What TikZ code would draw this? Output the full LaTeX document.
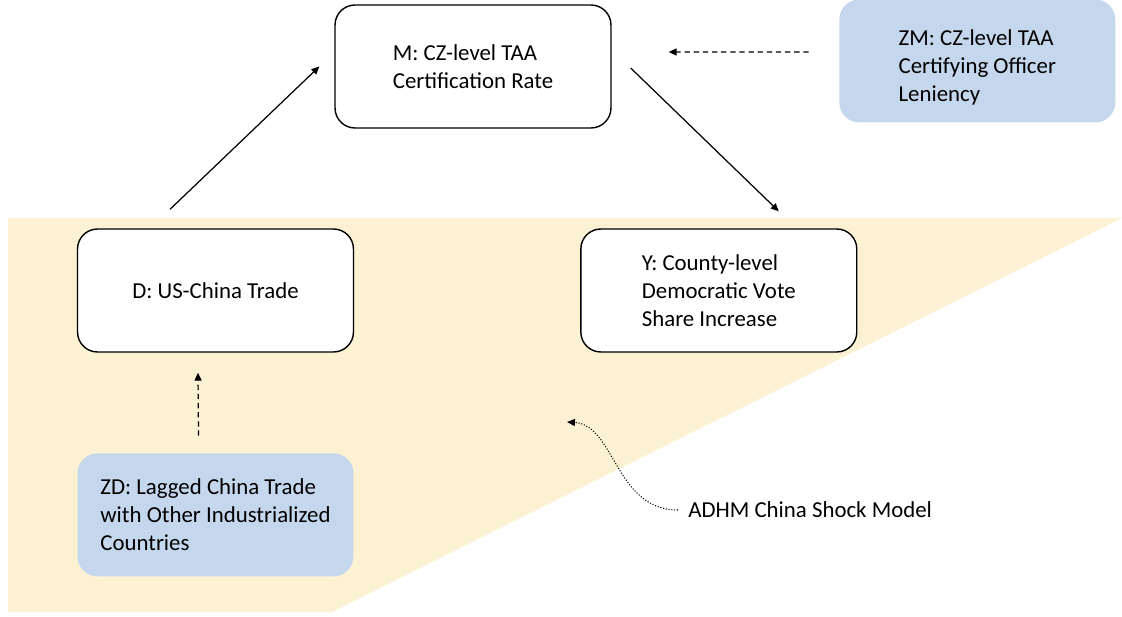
\documentclass[tikz,border=0pt]{standalone}
\usepackage{fontspec}
\setmainfont{Carlito}
\usepackage{xcolor}
\usetikzlibrary{arrows.meta,positioning}
\definecolor{shockyellow}{HTML}{FCF1D3}
\definecolor{instblue}{HTML}{C4D7EC}

\begin{document}
\begin{tikzpicture}[x=0.02cm,y=0.02cm,
    font=\fontsize{13pt}{15.9pt}\selectfont,
    varbox/.style={draw, line width=0.8pt, rounded corners=0.4cm, fill=white,
      minimum width=5.52cm, minimum height=2.46cm, align=left},
    instbox/.style={varbox, draw=none, fill=instblue},
    link/.style={line width=0.7pt, -{Triangle[length=4.5pt,width=4pt]}},
    instlink/.style={link, dash pattern=on 3pt off 2.2pt},
    notelink/.style={line width=0.6pt, densely dotted, -{Triangle[length=4.5pt,width=4pt]}}]
    \useasboundingbox (0,0) rectangle (1122,616);
    \fill[shockyellow] (8,398) -- (1122,398) -- (332,4) -- (8,4) -- cycle;

    \node[varbox] (D) at (215.5,325.5) {D: US-China Trade};
    \node[varbox, right=4.52cm of D] (Y) {Y: County-level\\Democratic Vote\\Share Increase};
    \node[instbox, below=2cm of D] (ZD) {ZD: Lagged China Trade\\with Other Industrialized\\Countries};
    \node[varbox] (M) at (473,549.5) {M: CZ-level TAA\\Certification Rate};
    \node[instbox, right=4.54cm of M, yshift=0.11cm] (ZM) {\rule{0pt}{16pt}ZM: CZ-level TAA\\Certifying Officer\\Leniency};
    \node[anchor=west, inner sep=0pt] (adhm) at (688,106) {ADHM China Shock Model};

    \coordinate (dm-a) at ([xshift=-0.91cm,yshift=0.38cm]D.north);
    \coordinate (dm-b) at ([xshift=-0.3cm]M.west);
    \coordinate (my-a) at ([xshift=0.38cm,yshift=-0.03cm]M.east);
    \coordinate (my-b) at ([xshift=1.2cm,yshift=0.34cm]Y.north);
    \coordinate (zm-a) at ([xshift=-0.6cm,yshift=0.18cm]ZM.west);
    \coordinate (zm-b) at ([xshift=1.14cm,yshift=0.29cm]M.east);
    \coordinate (zd-a) at ([xshift=-0.34cm,yshift=0.34cm]ZD.north);
    \coordinate (zd-b) at ([xshift=-0.35cm,yshift=-0.4cm]D.south);
    \coordinate (adhm-b) at (567,194);

    \draw[link] (dm-a) -- (dm-b);
    \draw[link] (my-a) -- (my-b);
    \draw[instlink] (zm-a) -- (zm-b);
    \draw[instlink] (zd-a) -- (zd-b);
    \draw[notelink, shorten <=0.2cm] (adhm.west) .. controls (615,106) and (615,191) .. (adhm-b);
  \end{tikzpicture}
\end{document}
